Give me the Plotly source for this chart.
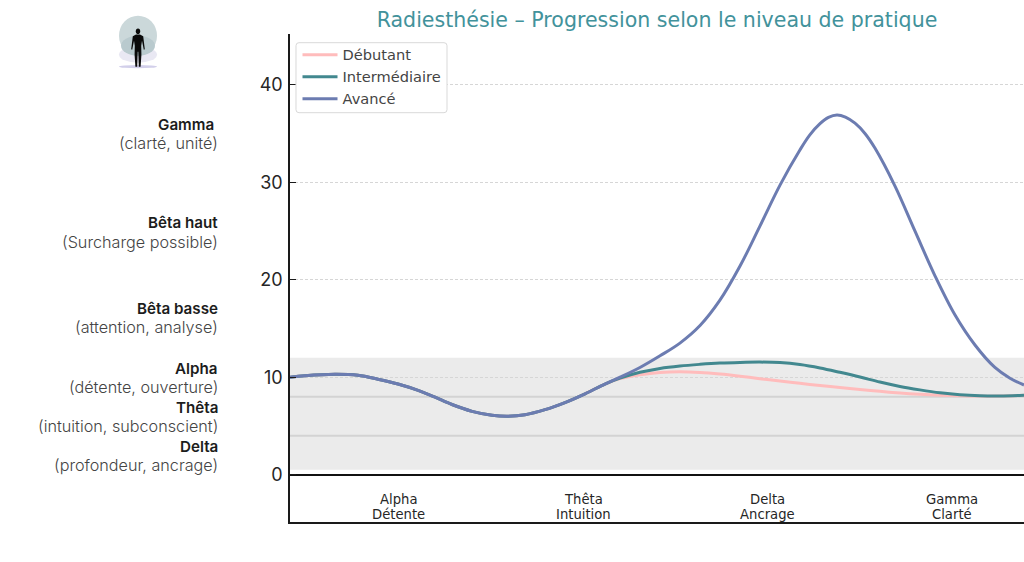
import plotly.graph_objects as go

# ---- data ----
x_common = [-0.586, -0.505, -0.342, -0.217, -0.109, 0.0, 0.109, 0.201, 0.293, 0.402, 0.510,
            0.597, 0.689, 0.798, 0.906, 1.015, 1.123]
y_common = [10.0, 10.15, 10.3, 10.2, 9.8, 9.3, 8.65, 7.95, 7.2, 6.5, 6.1,
            6.0, 6.15, 6.67, 7.4, 8.3, 9.3]

x_debutant = [1.205, 1.313, 1.422, 1.530, 1.639, 1.747, 1.856, 1.964, 2.073, 2.181, 2.290,
              2.398, 2.507, 2.615, 2.724, 2.832, 2.941, 3.049, 3.158, 3.266, 3.397]
y_debutant = [9.85, 10.25, 10.48, 10.55, 10.48, 10.32, 10.1, 9.85, 9.6, 9.37, 9.15,
              8.94, 8.74, 8.55, 8.38, 8.25, 8.15, 8.09, 8.06, 8.07, 8.15]

x_inter = [1.205, 1.313, 1.422, 1.530, 1.639, 1.747, 1.856, 1.964, 2.073, 2.181, 2.290,
           2.398, 2.507, 2.615, 2.724, 2.832, 2.941, 3.049, 3.158, 3.266, 3.397]
y_inter = [9.9, 10.5, 10.9, 11.15, 11.32, 11.45, 11.52, 11.55, 11.5, 11.3, 10.95,
           10.5, 10.02, 9.5, 9.05, 8.7, 8.4, 8.2, 8.1, 8.08, 8.15]

x_avance = [1.205, 1.313, 1.422, 1.530, 1.639, 1.747, 1.856, 1.964, 2.073, 2.181, 2.235, 2.290, 2.336,
            2.382, 2.428, 2.480, 2.534, 2.588, 2.697, 2.805, 2.914, 3.022, 3.131, 3.239, 3.321, 3.397]
y_avance = [10.0, 11.0, 12.2, 13.5, 15.3, 17.9, 21.4, 25.5, 29.7, 33.3, 34.85, 36.0, 36.65,
            36.9, 36.68, 36.05, 35.0, 33.5, 29.6, 25.0, 20.4, 16.4, 13.3, 11.0, 9.9, 9.2]

series_names = ["Débutant", "Intermédiaire", "Avancé"]
series_colors = ["#ffbcbc", "#42888f", "#6c7cb1"]

bands = ["Alpha", "Thêta", "Delta", "Gamma"]
band_words = ["Détente", "Intuition", "Ancrage", "Clarté"]
band_positions = [0, 1, 2, 3]
y_ticks = [0, 10, 20, 30, 40]
zone_lines = [4, 8]

side_labels = [
    ("Gamma ", "(clarté, unité)", 125, 143),
    ("Bêta haut", "(Surcharge possible)", 223, 242),
    ("Bêta basse", "(attention, analyse)", 309, 327),
    ("Alpha", "(détente, ouverture)", 369, 387),
    ("Thêta", "(intuition, subconscient)", 408, 426),
    ("Delta", "(profondeur, ancrage)", 447, 465),
]

# ---- layout helpers ----
W, H = 1024, 562
L, T, B = 290, 34.3, 39.7
PW, PH = W - L, H - T - B
def px(v): return (v - L) / PW
def py(v): return 1 - (v - T) / PH

fig = go.Figure()
series = [
    (x_common + x_debutant, y_common + y_debutant),
    (x_common + x_inter, y_common + y_inter),
    (x_common + x_avance, y_common + y_avance),
]
for (xs, ys), name, color in zip(series, series_names, series_colors):
    fig.add_trace(go.Scatter(x=xs, y=ys, name=name, mode="lines",
                             line=dict(color=color, width=3, shape="spline", smoothing=1.0)))

shapes = [
    dict(type="rect", xref="paper", x0=0, x1=1, yref="y", y0=0.5, y1=12,
         fillcolor="#ebebeb", line_width=0, layer="below"),
]
for z in zone_lines:
    shapes.append(dict(type="line", xref="paper", x0=0, x1=1, yref="y", y0=z, y1=z,
                       line=dict(color="#d3d3d3", width=2), layer="below"))

def ell(cx, cy, rx, ry, color, opacity=1):
    return dict(type="circle", xref="paper", yref="paper",
                x0=px(cx - rx), x1=px(cx + rx), y0=py(cy + ry), y1=py(cy - ry),
                fillcolor=color, line_width=0, opacity=opacity)

shapes += [
    ell(138, 55, 19, 8, "#e9e8f3"),
    ell(138, 36, 19, 20, "#cbd8da"),
    ell(138, 46, 17, 10, "#b9cace"),
    ell(138, 67, 19, 1.6, "#d2cfea"),
    ell(138, 31.5, 2.2, 2.8, "#0a0a0a"),
]
body = [(136, 34.8), (140, 34.8), (143.2, 36.5), (144.8, 49.5), (143.8, 50), (142, 41), (141.2, 46),
        (141.4, 55), (140.6, 67), (138.8, 67), (138.3, 52), (137.7, 52), (137.2, 67), (135.4, 67), (134.6, 55),
        (134.8, 46), (134, 41), (132.2, 50), (131.2, 49.5), (132.8, 36.5)]
path = "M " + " L ".join(f"{px(a):.5f} {py(b):.5f}" for a, b in body) + " Z"
shapes.append(dict(type="path", xref="paper", yref="paper", path=path,
                   fillcolor="#0a0a0a", line_width=0))

# rounded legend frame (legend itself is drawn transparent on top)
x0, x1, y0, y1, r = 296, 447, 43, 113, 3
def P(a, b): return f"{px(a):.5f} {py(b):.5f}"
frame = (f"M {P(x0 + r, y0)} L {P(x1 - r, y0)} Q {P(x1, y0)} {P(x1, y0 + r)} L {P(x1, y1 - r)} "
         f"Q {P(x1, y1)} {P(x1 - r, y1)} L {P(x0 + r, y1)} Q {P(x0, y1)} {P(x0, y1 - r)} "
         f"L {P(x0, y0 + r)} Q {P(x0, y0)} {P(x0 + r, y0)} Z")
shapes.append(dict(type="path", xref="paper", yref="paper", path=frame,
                   fillcolor="white", line=dict(color="#d9d9d9", width=1)))

ann = []
SIDE = "Inter, Liberation Sans, sans-serif"
for head, sub, y1_, y2_ in side_labels:
    ann.append(dict(xref="paper", yref="paper", x=px(220), y=py(y1_), xanchor="right", yanchor="middle",
                    text=head, showarrow=False, font=dict(family=SIDE, size=15.2, weight=600, color="#1c1c1c")))
    ann.append(dict(xref="paper", yref="paper", x=px(220), y=py(y2_), xanchor="right", yanchor="middle",
                    text=sub, showarrow=False, font=dict(family=SIDE, size=16.2, weight=300, color="#444444")))
for pos, b, w in zip(band_positions, bands, band_words):
    for txt, yy in ((b, -2.56), (w, -4.05)):
        ann.append(dict(xref="x", yref="y", x=pos, y=yy, xanchor="center", yanchor="middle", xshift=1,
                        text=txt, showarrow=False,
                        font=dict(family="DejaVu Sans", size=13.2, color="#262626")))

fig.update_layout(
    width=W, height=H, autosize=False,
    margin=dict(l=L, r=0, t=T, b=B, autoexpand=False),
    paper_bgcolor="white", plot_bgcolor="white",
    title=dict(text="Radiesthésie – Progression selon le niveau de pratique",
               font=dict(family="DejaVu Sans", size=20.55, color="#42929b"),
               x=657 / W, xanchor="center", y=1 - 20 / H, yanchor="middle"),
    xaxis=dict(range=[-0.586, 3.397], showgrid=False, zeroline=False, showticklabels=False, ticks="",
               showline=True, linecolor="#1a1a1a", linewidth=1.5),
    yaxis=dict(range=[-4.85, 45.2], tickvals=y_ticks, showgrid=True, gridcolor="#d6d6d6", gridwidth=1,
               griddash="3px,2px", zeroline=True, zerolinecolor="#111111", zerolinewidth=1.5,
               showline=True, linecolor="#1a1a1a", linewidth=1.5, ticks="inside", ticklen=6,
               tickcolor="#1a1a1a", ticklabelstandoff=2,
               tickfont=dict(family=SIDE, size=18, color="#262626")),
    legend=dict(x=px(297.5), y=py(39), xanchor="left", yanchor="top", bgcolor="rgba(0,0,0,0)",
                borderwidth=0, font=dict(family="DejaVu Sans", size=14.6, color="#444444"),
                tracegroupgap=0, itemwidth=35),
    shapes=shapes, annotations=ann, showlegend=True,
)
fig.write_html("out.html", config={"displayModeBar": False},
               post_script="document.body.style.margin='0';")
